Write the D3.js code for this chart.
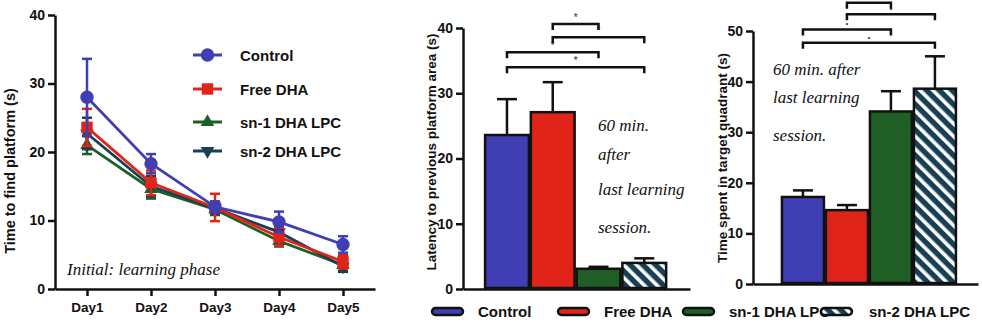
<html>
<head>
<script src="https://d3js.org/d3.v7.min.js"></script>
<style>
  body { margin: 0; background: #fff; }
  text { font-family: "Liberation Sans", Arial, sans-serif; }
  .hand { font-family: "Liberation Serif", serif; font-style: italic; }
</style>
</head>
<body>
<div id="chart"></div>
<script>
// ---- data ----
const days = ["Day1", "Day2", "Day3", "Day4", "Day5"];
const groups = ["Control", "Free DHA", "sn-1 DHA LPC", "sn-2 DHA LPC"];
const colors = ["#3f3fb3", "#e0241a", "#1f5e24", "#173f55"];

// learning phase, mean and error per day
const controlMean = [28.0, 18.3, 12.0, 9.8, 6.5];
const controlErr  = [5.6, 1.4, 0.8, 1.5, 1.2];
const freeMean    = [23.6, 15.5, 11.9, 7.6, 4.0];
const freeErr     = [2.7, 1.8, 2.0, 1.3, 1.0];
const sn1Mean     = [21.0, 14.6, 11.6, 7.0, 3.5];
const sn1Err      = [1.3, 1.4, 0.8, 0.8, 0.8];
const sn2Mean     = [22.7, 15.0, 11.8, 8.3, 3.3];
const sn2Err      = [2.3, 1.5, 0.8, 0.9, 0.8];

// probe: latency to previous platform area
const latencyMean = [23.6, 27.1, 3.1, 4.0];
const latencyErr  = [5.5, 4.6, 0.3, 0.7];
// probe: time spent in target quadrant
const quadMean = [17.2, 14.6, 34.1, 38.6];
const quadErr  = [1.3, 1.0, 4.0, 6.4];

// significance brackets (group pair, height in data units)
const latencyPairs = [
  {a: 1, b: 2, level: 40.6, star: true}, {a: 1, b: 3, level: 38.6, star: true},
  {a: 0, b: 2, level: 36.3, star: true}, {a: 0, b: 3, level: 34.0, star: true}
];
const quadPairs = [
  {a: 1, b: 2, level: 55.6, star: false}, {a: 1, b: 3, level: 53.3, star: true},
  {a: 0, b: 2, level: 50.3, star: true}, {a: 0, b: 3, level: 47.7, star: true}
];

const W = 982, H = 328;
const svg = d3.select("#chart").append("svg").attr("width", W).attr("height", H);

const defs = svg.append("defs");
const pat = defs.append("pattern")
  .attr("id", "stripes").attr("patternUnits", "userSpaceOnUse")
  .attr("width", 9).attr("height", 9)
  .attr("patternTransform", "rotate(-45)");
pat.append("rect").attr("width", 9).attr("height", 9).attr("fill", colors[3]);
pat.append("rect").attr("x", 0).attr("width", 3.6).attr("height", 9).attr("fill", "#fff");

function styleAxis(g, size) {
  g.select(".domain").attr("stroke", "#111").attr("stroke-width", 2.5);
  g.selectAll(".tick line").attr("stroke", "#111").attr("stroke-width", 2.5);
  g.selectAll(".tick text").attr("fill", "#111").attr("font-weight", "bold")
    .attr("font-size", size).attr("font-family", "Liberation Sans, Arial, sans-serif");
}

// ================= left: learning phase =================
const lx = d3.scalePoint().domain(days).range([55, 375]).padding(0.5);
const ly = d3.scaleLinear().domain([0, 40]).range([289, 15]);

const gx = svg.append("g").attr("transform", "translate(0,289)")
  .call(d3.axisBottom(lx).tickSize(7).tickSizeOuter(0).tickPadding(6));
styleAxis(gx, 13.5);
const gy = svg.append("g").attr("transform", "translate(55,0)")
  .call(d3.axisLeft(ly).ticks(4).tickSize(7).tickSizeOuter(0).tickPadding(3));
styleAxis(gy, 14);

svg.append("text")
  .attr("transform", "translate(15,171) rotate(-90)")
  .attr("text-anchor", "middle").attr("font-weight", "bold").attr("font-size", 14.5)
  .attr("fill", "#111").text("Time to find platform (s)");

const series = [
  {name: groups[2], mean: sn1Mean, err: sn1Err, color: colors[2], sym: d3.symbolTriangle, size: 80, rot: 0},
  {name: groups[3], mean: sn2Mean, err: sn2Err, color: colors[3], sym: d3.symbolTriangle, size: 80, rot: 180},
  {name: groups[1], mean: freeMean, err: freeErr, color: colors[1], sym: d3.symbolSquare, size: 130, rot: 0},
  {name: groups[0], mean: controlMean, err: controlErr, color: colors[0], sym: d3.symbolCircle, size: 140, rot: 0}
];

const line = d3.line().x((d, i) => lx(days[i])).y(d => ly(d));

series.forEach(s => {
  const g = svg.append("g");
  const pts = s.mean.map((m, i) => ({day: days[i], m: m, e: s.err[i]}));
  g.selectAll("line.eb").data(pts).join("line")
    .attr("x1", d => lx(d.day)).attr("x2", d => lx(d.day))
    .attr("y1", d => ly(d.m - d.e)).attr("y2", d => ly(d.m + d.e))
    .attr("stroke", s.color).attr("stroke-width", 2.5);
  ["top", "bot"].forEach(k => {
    g.selectAll("line." + k).data(pts).join("line")
      .attr("x1", d => lx(d.day) - 5).attr("x2", d => lx(d.day) + 5)
      .attr("y1", d => ly(k === "top" ? d.m + d.e : d.m - d.e))
      .attr("y2", d => ly(k === "top" ? d.m + d.e : d.m - d.e))
      .attr("stroke", s.color).attr("stroke-width", 2.5);
  });
  g.append("path").datum(s.mean).attr("d", line)
    .attr("fill", "none").attr("stroke", s.color).attr("stroke-width", 2.8);
  g.selectAll("path.pt").data(pts).join("path")
    .attr("transform", d => `translate(${lx(d.day)},${ly(d.m)}) rotate(${s.rot})`)
    .attr("d", d3.symbol().type(s.sym).size(s.size))
    .attr("fill", s.color);
});

// left legend
const legendOrder = [3, 2, 0, 1];
const legY = [55, 89, 122, 151];
legendOrder.forEach((si, k) => {
  const s = series[si];
  const g = svg.append("g").attr("transform", `translate(0,${legY[k]})`);
  g.append("line").attr("x1", 193).attr("x2", 222).attr("stroke", s.color).attr("stroke-width", 3);
  g.append("path").attr("transform", `translate(207.5,0) rotate(${s.rot})`)
    .attr("d", d3.symbol().type(s.sym).size(s.size)).attr("fill", s.color);
  g.append("text").attr("x", 240).attr("y", 5.5).attr("font-weight", "bold")
    .attr("font-size", 15).attr("fill", "#111").text(s.name);
});

svg.append("text").attr("class", "hand").attr("x", 67).attr("y", 275)
  .attr("font-size", 17).attr("fill", "#111").text("Initial: learning phase");

// ================= bar panels =================
function barPanel(opt) {
  const x = d3.scaleBand().domain(groups).range(opt.xr)
    .paddingInner(0).paddingOuter(opt.po).align(opt.align);
  const y = d3.scaleLinear().domain([0, opt.max]).range(opt.yr);

  const bx = svg.append("g").attr("transform", `translate(0,${opt.yr[0]})`)
    .call(d3.axisBottom(x).tickSize(0).tickSizeOuter(0).tickFormat(""));
  styleAxis(bx, 13);
  const by = svg.append("g").attr("transform", `translate(${opt.xr[0]},0)`)
    .call(d3.axisLeft(y).ticks(opt.max / 10).tickSize(7).tickSizeOuter(0).tickPadding(3));
  styleAxis(by, 14);

  const g = svg.append("g");
  // error bars (upper only)
  g.selectAll("line.eb").data(opt.mean).join("line")
    .attr("x1", (d, i) => x(groups[i]) + x.bandwidth() / 2)
    .attr("x2", (d, i) => x(groups[i]) + x.bandwidth() / 2)
    .attr("y1", d => y(d)).attr("y2", (d, i) => y(d + opt.err[i]))
    .attr("stroke", "#111").attr("stroke-width", 2.5);
  g.selectAll("line.cap").data(opt.mean).join("line")
    .attr("x1", (d, i) => x(groups[i]) + x.bandwidth() / 2 - 10)
    .attr("x2", (d, i) => x(groups[i]) + x.bandwidth() / 2 + 10)
    .attr("y1", (d, i) => y(d + opt.err[i])).attr("y2", (d, i) => y(d + opt.err[i]))
    .attr("stroke", "#111").attr("stroke-width", 2.5);
  g.selectAll("rect").data(opt.mean).join("rect")
    .attr("x", (d, i) => x(groups[i]) + 1)
    .attr("width", x.bandwidth() - 2)
    .attr("y", d => y(d)).attr("height", d => y(0) - y(d) - 1)
    .attr("fill", (d, i) => i === 3 ? "url(#stripes)" : colors[i])
    .attr("stroke", "#111").attr("stroke-width", 2.5);

  // brackets
  const cx = i => x(groups[i]) + x.bandwidth() / 2;
  opt.pairs.forEach(p => {
    const yy = y(p.level);
    svg.append("path")
      .attr("d", `M${cx(p.a)},${yy + 6}V${yy}H${cx(p.b)}V${yy + 6}`)
      .attr("fill", "none").attr("stroke", "#111").attr("stroke-width", 2.5);
    if (p.star) {
      svg.append("text").attr("x", (cx(p.a) + cx(p.b)) / 2).attr("y", yy - 3)
        .attr("text-anchor", "middle").attr("font-size", opt.starSize).attr("fill", "#222")
        .text(opt.star);
    }
  });

  svg.append("text")
    .attr("transform", `translate(${opt.labelX},${opt.labelY}) rotate(-90)`)
    .attr("text-anchor", "middle").attr("font-weight", "bold").attr("font-size", 13.5)
    .attr("fill", "#111").text(opt.label);

  opt.note.forEach((t, i) => {
    svg.append("text").attr("class", "hand").attr("x", opt.noteX).attr("y", opt.noteY[i])
      .attr("font-size", 17).attr("fill", "#111").text(t);
  });
}

barPanel({
  xr: [463, 690], po: 0.48, align: 0.48, yr: [289, 28], max: 40,
  mean: latencyMean, err: latencyErr, pairs: latencyPairs, star: "*", starSize: 10,
  label: "Latency to  previous platform area (s)", labelX: 436, labelY: 152,
  note: ["60 min.", "after", "last learning", "session."], noteX: 598, noteY: [131, 160, 195, 233]
});

barPanel({
  xr: [753, 978], po: 0.557, align: 0.57, yr: [284, 31], max: 50,
  mean: quadMean, err: quadErr, pairs: quadPairs, star: "•", starSize: 7,
  label: "Time spent in target quadrant (s)", labelX: 727, labelY: 158,
  note: ["60 min. after", "last learning", "session."], noteX: 773, noteY: [75, 103, 141]
});

// bottom legend
const legX = [432, 558, 683, 821];
groups.forEach((name, i) => {
  svg.append("rect").attr("x", legX[i]).attr("y", 308).attr("width", 31).attr("height", 7)
    .attr("rx", 3.5).attr("fill", i === 3 ? "url(#stripes)" : colors[i])
    .attr("stroke", "#111").attr("stroke-width", 2.5);
  svg.append("text").attr("x", legX[i] + (i === 3 ? 48 : 46)).attr("y", 317)
    .attr("font-weight", "bold").attr("font-size", 15).attr("fill", "#111").text(name);
});
</script>
</body>
</html>
